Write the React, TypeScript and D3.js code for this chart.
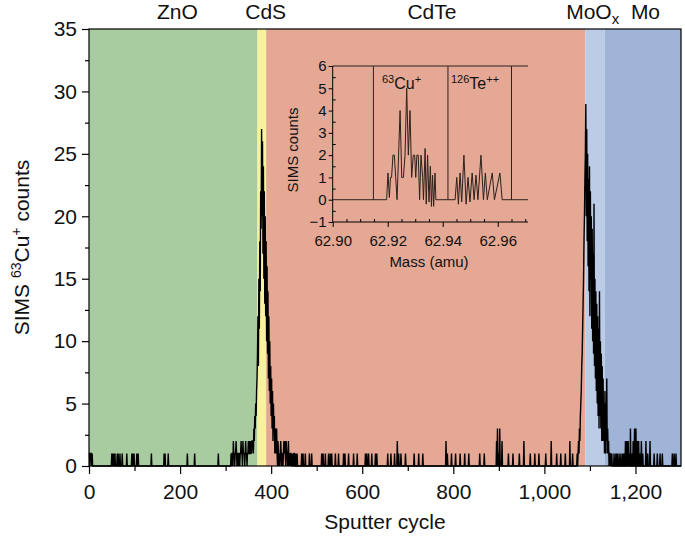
import React, { useEffect, useRef } from 'react'
import * as d3 from 'd3'

// layers of the device stack (sputter cycle ranges)
const layerNames = ['ZnO', 'CdS', 'CdTe', 'MoO', 'Mo']
const layerStarts = [0, 370, 389, 1090, 1132]
const layerEnds = [370, 389, 1090, 1132, 1300]
const layerColors = ['#a9cba0', '#f8f29e', '#e4a894', '#bccce6', '#a0b4d7']
const labelCycles = [194, 388, 753, 1106, 1222]

const xTicks = [0, 200, 400, 600, 800, 1000, 1200]
const yTicks = [0, 5, 10, 15, 20, 25, 30, 35]

// isolated counts on the background
const spikeCycles = [
  0, 1, 3, 4, 5, 7, 50, 52, 55, 57, 62, 64, 68, 73, 83, 94, 97, 99, 105, 108, 137, 165, 167, 174, 216, 232, 284,
  467, 470, 475, 484, 489, 511, 514, 519, 526, 530, 533, 541, 548, 559, 562, 570, 581, 589, 607, 610, 614, 621, 629, 632,
  656, 663, 671, 677, 680, 685, 695, 714, 724, 733, 784, 787, 796, 805, 815, 825, 834, 858, 868,
  895, 897, 900, 902, 907, 921, 931, 945, 955, 969, 979, 988, 1003, 1015, 1027, 1036, 1046, 1056, 1062,
  1153, 1157, 1160, 1164, 1168, 1172, 1175, 1178, 1181, 1184, 1186, 1189, 1192, 1195, 1198, 1201, 1204, 1207, 1210,
  1213, 1216, 1223, 1227, 1232, 1241, 1248, 1254, 1259, 1281, 1285, 1289,
]
const spikeCounts = [
  1, 1, 1, 1, 1, 1, 1, 1, 1, 1, 1, 1, 1, 1, 1, 1, 1, 1, 1, 1, 1, 1, 1, 1, 1, 1, 1,
  1, 1, 1, 1, 1, 1, 1, 1, 1, 1, 1, 1, 1, 1, 1, 1, 1, 1, 1, 1, 1, 1, 1, 1,
  1, 1, 1, 2, 1, 1, 1, 1, 1, 1, 2, 1, 1, 1, 1, 1, 1, 1, 1,
  2, 3, 1, 3, 2, 1, 1, 1, 2, 1, 1, 1, 1, 2, 1, 1, 1, 2, 1,
  1, 1, 1, 1, 1, 1, 1, 2, 2, 2, 1, 3, 1, 2, 3, 3, 2, 2, 1,
  2, 1, 2, 1, 2, 1, 1, 1, 1, 1, 1, 1,
]

// dense stretches, one value per cycle
const preCdsStart = 310
const preCdsCounts = [
  0, 0, 1, 0, 1, 1, 0, 2, 1, 1,
  0, 1, 1, 2, 1, 0, 1, 1, 0, 1,
  1, 0, 1, 1, 2, 1, 1, 0, 2, 1,
  1, 1, 0, 1, 2, 1, 1, 0, 1, 1,
  2, 1, 1, 2, 1, 1, 2, 1, 2, 2,
]
const cdsPeakStart = 360
const cdsPeakCounts = [
  2, 1, 3, 2, 4, 3, 5, 4, 6, 7,
  9, 12, 8, 15, 11, 18, 14, 22, 19, 27,
  20, 26, 17, 24, 15, 22, 13, 20, 12, 18,
  10, 16, 9, 14, 7, 12, 6, 10, 5, 8,
  4, 7, 3, 6, 2, 5, 3, 4, 1, 3,
  1, 2, 3, 1, 0, 2, 1, 0, 1, 0,
  1, 2, 1, 0, 1, 1, 0, 1, 2, 1,
  2, 1, 0, 2, 1, 1, 0, 1, 2, 0,
  1, 0, 1, 1, 0, 1, 0, 0, 1, 0,
  1, 1, 0, 0, 1, 0, 0, 1, 0, 0,
]
const moPeakStart = 1070
const moPeakCounts = [
  0, 0, 1, 0, 1, 2, 1, 3, 2, 4,
  5, 6, 8, 9, 11, 13, 15, 18, 20, 23,
  25, 29, 20, 27, 18, 25, 16, 23, 14, 24,
  12, 22, 15, 20, 11, 19, 10, 17, 9, 21,
  8, 15, 7, 14, 6, 13, 5, 12, 4, 11,
  3, 14, 4, 10, 3, 9, 2, 8, 2, 7,
  2, 5, 1, 6, 1, 5, 2, 7, 1, 3,
  1, 2, 0, 1, 1, 0, 1, 0, 1, 0,
]

// inset: mass spectrum around 63 amu
const cuMass = [
  62.9196, 62.9201, 62.9206, 62.921, 62.9214, 62.9219, 62.9224, 62.9229, 62.9234, 62.9245, 62.9251, 62.9257,
  62.9263, 62.9269, 62.9275, 62.9281, 62.9287, 62.9293, 62.9298, 62.9302, 62.9306, 62.9311, 62.9316, 62.9321,
  62.9327, 62.933, 62.9336, 62.934, 62.9345, 62.935, 62.9355, 62.9359, 62.9363, 62.9367, 62.9372, 62.9375, 62.9384,
]
const cuCounts = [
  0, 1.2, 0.1, 1, 1, 2, 2, 1, 0, 4, 1, 1,
  2, 5, 2, 4, 1, 2, 2, 1, 2, 2, 0, 2,
  1, 0, 2.3, -0.2, 2, -0.1, 1.5, -0.3, 1.1, -0.3, 1.2, 0, 0,
]
const teMass = [
  62.9445, 62.9451, 62.9457, 62.9463, 62.9469, 62.9477, 62.9485, 62.9492, 62.9499, 62.9507, 62.9514,
  62.9521, 62.9528, 62.9539, 62.9548, 62.9555, 62.9562, 62.958, 62.9588, 62.9608, 62.9616,
]
const teCounts = [0, 1, -0.2, 1.2, -0.1, 2, -0.2, 1, -0.1, 1.2, 0, 1.1, 0, 2, 0, 1.2, 0, 1.2, 0, 1.2, 0]
const windowMasses = [62.9148, 62.9419, 62.965]
const insetXTicks = [62.9, 62.92, 62.94, 62.96]
const insetXMinor = [62.905, 62.91, 62.915, 62.925, 62.93, 62.935, 62.945, 62.95, 62.955, 62.965, 62.97]
const insetYTicks = [-1, 0, 1, 2, 3, 4, 5, 6]
const insetYMinor = [-0.5, 0.5, 1.5, 2.5, 3.5, 4.5, 5.5]

const W = 685
const H = 538
const font = "'Liberation Sans', Arial, sans-serif"

export default function App() {
  const ref = useRef<SVGSVGElement>(null)

  useEffect(() => {
    const svg = d3.select(ref.current)
    svg.selectAll('*').remove()

    // main plot area
    const left = 89, right = 681, top = 29, bottom = 466
    const x = d3.scaleLinear().domain([0, 1300]).range([left, right])
    const y = d3.scaleLinear().domain([0, 35]).range([bottom, top])

    // layer bands
    svg.append('g').selectAll('rect')
      .data(layerNames)
      .join('rect')
      .attr('x', (d, i) => x(layerStarts[i]))
      .attr('width', (d, i) => x(layerEnds[i]) - x(layerStarts[i]))
      .attr('y', top)
      .attr('height', bottom - top)
      .attr('fill', (d, i) => layerColors[i])

    // layer labels on top
    const lbl = svg.append('g').attr('font-family', font).attr('font-size', 21).attr('fill', '#111')
    layerNames.forEach((name, i) => {
      if (name === 'MoO') {
        const t = lbl.append('text').attr('x', x(labelCycles[i])).attr('y', 18.5).attr('text-anchor', 'middle')
        t.append('tspan').text('MoO')
        t.append('tspan').attr('font-size', 15).attr('dy', 5).text('x')
      } else {
        lbl.append('text').attr('x', x(labelCycles[i])).attr('y', 18.5).attr('text-anchor', 'middle').text(name)
      }
    })

    // build counts per cycle
    const counts = new Array(1301).fill(0)
    spikeCycles.forEach((c, i) => { counts[c] = spikeCounts[i] })
    preCdsCounts.forEach((v, i) => { counts[preCdsStart + i] = v })
    cdsPeakCounts.forEach((v, i) => { counts[cdsPeakStart + i] = v })
    moPeakCounts.forEach((v, i) => { counts[moPeakStart + i] = v })

    const line = d3.line<number>()
      .x((d, i) => x(i))
      .y(d => y(d))

    svg.append('path')
      .datum(counts)
      .attr('d', line)
      .attr('fill', 'none')
      .attr('stroke', '#000')
      .attr('stroke-width', 1.4)

    // frame
    svg.append('rect')
      .attr('x', left).attr('y', top)
      .attr('width', right - left).attr('height', bottom - top)
      .attr('fill', 'none').attr('stroke', '#000').attr('stroke-width', 1.2)

    // axes
    const gXMinor = svg.append('g').attr('transform', `translate(0,${bottom})`)
    gXMinor.call(d3.axisBottom(x).tickValues(d3.range(100, 1300, 200)).tickSize(5).tickFormat(() => ''))
    const gX = svg.append('g').attr('transform', `translate(0,${bottom})`)
    gX.call(d3.axisBottom(x).tickValues(xTicks).tickSize(8).tickPadding(10).tickFormat(d3.format(',')))
    svg.selectAll('.domain').remove()
    gX.selectAll('text').attr('font-size', 21).attr('font-family', font).attr('fill', '#111')

    const gYMinor = svg.append('g').attr('transform', `translate(${left},0)`)
    gYMinor.call(d3.axisLeft(y).tickValues(d3.range(2.5, 35, 5)).tickSize(4).tickFormat(() => ''))
    const gY = svg.append('g').attr('transform', `translate(${left},0)`)
    gY.call(d3.axisLeft(y).tickValues(yTicks).tickSize(7).tickPadding(5).tickFormat(d3.format('d')))
    svg.selectAll('.domain').remove()
    gY.selectAll('text').attr('font-size', 21).attr('font-family', font).attr('fill', '#111')
    svg.selectAll('.tick line').attr('stroke-width', 1.2)

    svg.append('text')
      .attr('x', (left + right) / 2).attr('y', 529)
      .attr('text-anchor', 'middle')
      .attr('font-family', font).attr('font-size', 21).attr('fill', '#111')
      .text('Sputter cycle')

    const yt = svg.append('text')
      .attr('transform', `translate(29,${(top + bottom) / 2}) rotate(-90)`)
      .attr('text-anchor', 'middle')
      .attr('font-family', font).attr('font-size', 21).attr('fill', '#111')
    yt.append('tspan').text('SIMS ')
    yt.append('tspan').attr('font-size', 14).attr('dy', -8).text('63')
    yt.append('tspan').attr('dy', 8).text('Cu')
    yt.append('tspan').attr('font-size', 14).attr('dy', -8).text('+')
    yt.append('tspan').attr('dy', 8).text(' counts')

    // inset
    const ix = d3.scaleLinear().domain([62.9, 62.971]).range([332.7, 528])
    const iy = d3.scaleLinear().domain([-1, 6]).range([222, 66])
    const ink = '#2e211c'

    const inset = svg.append('g')

    inset.append('line')
      .attr('x1', ix(62.9)).attr('x2', ix(62.971))
      .attr('y1', iy(6)).attr('y2', iy(6))
      .attr('stroke', ink).attr('stroke-width', 1)

    inset.selectAll('.win')
      .data(windowMasses)
      .join('line')
      .attr('class', 'win')
      .attr('x1', d => ix(d)).attr('x2', d => ix(d))
      .attr('y1', iy(6)).attr('y2', iy(0))
      .attr('stroke', ink).attr('stroke-width', 1)

    const spectrum: [number, number][] = [[62.9, 0]]
    cuMass.forEach((m, i) => spectrum.push([m, cuCounts[i]]))
    teMass.forEach((m, i) => spectrum.push([m, teCounts[i]]))
    spectrum.push([62.971, 0])

    inset.append('path')
      .datum(spectrum)
      .attr('d', d3.line<[number, number]>().x(d => ix(d[0])).y(d => iy(d[1])))
      .attr('fill', 'none')
      .attr('stroke', ink)
      .attr('stroke-width', 1)

    const iXMinor = inset.append('g').attr('transform', `translate(0,${iy(-1)})`)
    iXMinor.call(d3.axisTop(ix).tickValues(insetXMinor).tickSize(3).tickFormat(() => ''))
    iXMinor.select('.domain').remove()
    const iX = inset.append('g').attr('transform', `translate(0,${iy(-1)})`)
    iX.call(d3.axisBottom(ix).tickValues(insetXTicks).tickSize(5).tickPadding(8).tickFormat(d3.format('.2f')))
    iX.select('.domain').attr('d', `M${ix(62.9)},0H${ix(62.971)}`)
    iX.selectAll('text').attr('font-size', 15).attr('font-family', font).attr('fill', '#111')

    const iYMinor = inset.append('g').attr('transform', `translate(${ix(62.9)},0)`)
    iYMinor.call(d3.axisRight(iy).tickValues(insetYMinor).tickSize(3).tickFormat(() => ''))
    iYMinor.select('.domain').remove()
    const iY = inset.append('g').attr('transform', `translate(${ix(62.9)},0)`)
    iY.call(d3.axisLeft(iy).tickValues(insetYTicks).tickSize(4).tickPadding(2).tickFormat(d3.format('d')))
    iY.select('.domain').attr('d', `M0,${iy(6)}V${iy(-1)}`)
    iY.selectAll('text').attr('font-size', 15).attr('font-family', font).attr('fill', '#111')

    inset.append('text')
      .attr('x', ix(62.935)).attr('y', 267)
      .attr('text-anchor', 'middle')
      .attr('font-family', font).attr('font-size', 15).attr('fill', '#111')
      .text('Mass (amu)')

    inset.append('text')
      .attr('transform', `translate(298,150) rotate(-90)`)
      .attr('text-anchor', 'middle')
      .attr('font-family', font).attr('font-size', 15).attr('fill', '#111')
      .text('SIMS counts')

    const cu = inset.append('text').attr('x', 382).attr('y', 89)
      .attr('font-family', font).attr('font-size', 16).attr('fill', '#111')
    cu.append('tspan').attr('font-size', 11).attr('dy', -6).text('63')
    cu.append('tspan').attr('dy', 6).text('Cu')
    cu.append('tspan').attr('font-size', 11).attr('dy', -6).text('+')

    const te = inset.append('text').attr('x', 451).attr('y', 89)
      .attr('font-family', font).attr('font-size', 16).attr('fill', '#111')
    te.append('tspan').attr('font-size', 11).attr('dy', -6).text('126')
    te.append('tspan').attr('dy', 6).text('Te')
    te.append('tspan').attr('font-size', 11).attr('dy', -6).text('++')

    return () => { svg.selectAll('*').remove() }
  }, [])

  return (
    <svg
      ref={ref}
      width={W}
      height={H}
      style={{ position: 'absolute', left: 0, top: 0, background: '#fff' }}
    />
  )
}
